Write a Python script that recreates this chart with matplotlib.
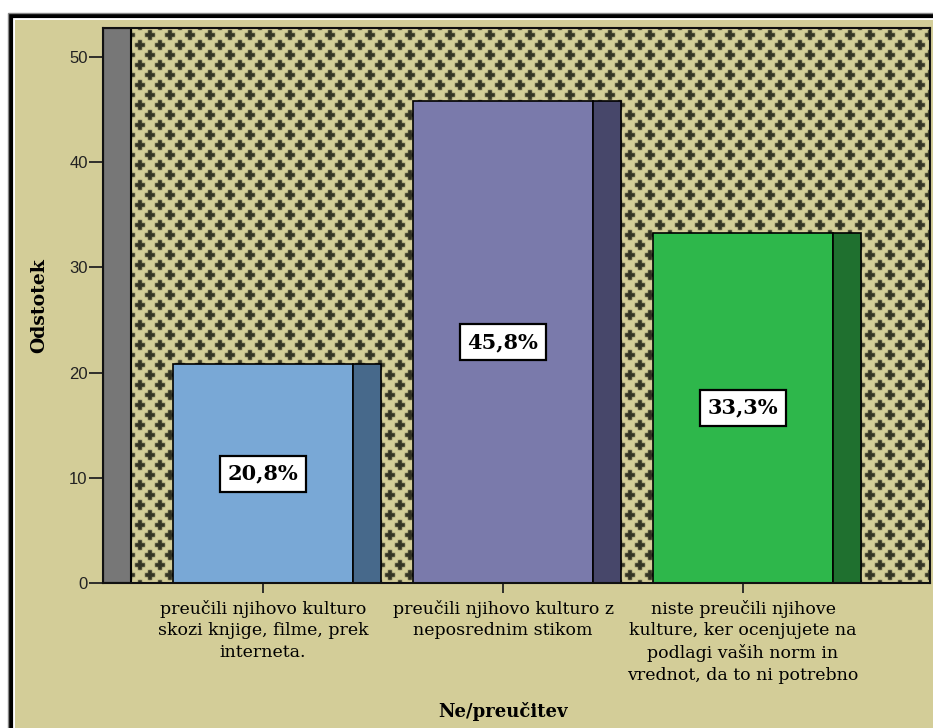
import numpy as np
import matplotlib
matplotlib.use("Agg")
import matplotlib.pyplot as plt
from matplotlib.patches import Rectangle

# Ne/preučitev - odstotki odgovorov
categories = [
    "preučili njihovo kulturo\nskozi knjige, filme, prek\ninterneta.",
    "preučili njihovo kulturo z\nneposrednim stikom",
    "niste preučili njihove\nkulture, ker ocenjujete na\npodlagi vaših norm in\nvrednot, da to ni potrebno",
]
percent = [20.8, 45.8, 33.3]
value_labels = ["20,8%", "45,8%", "33,3%"]
front_colors = ["#79a8d6", "#7a7aab", "#2eb74b"]
side_colors = ["#47698b", "#47476a", "#1f702f"]
yticks = [0, 10, 20, 30, 40, 50]

khaki = "#d3cd98"
W, H = 933, 728
fig = plt.figure(figsize=(W / 100, H / 100), dpi=100, facecolor="white")

# frame around the chart
fig.add_artist(Rectangle((15 / W, 0), (W - 15) / W, (H - 20) / H,
                         transform=fig.transFigure, facecolor=khaki,
                         edgecolor="none", zorder=0))
fig.add_artist(Rectangle((11 / W, -0.01), 1.1, (H - 16) / H + 0.01,
                         transform=fig.transFigure, facecolor="none",
                         edgecolor="black", linewidth=3.0, zorder=1))
fig.add_artist(Rectangle((8 / W, -0.01), 1.1, (H - 13) / H + 0.01,
                         transform=fig.transFigure, facecolor="none",
                         edgecolor="#888888", linewidth=1.0, zorder=1))

ax_l, ax_b, ax_w, ax_h = 103, 145, 827, 555
ax = fig.add_axes([ax_l / W, ax_b / H, ax_w / W, ax_h / H])
ax.set_facecolor(khaki)

x = np.arange(len(categories))
bar_w = 0.75
depth = 0.1167
xmin, xmax = -0.667, 2.779
ymax = 52.76
ax.set_xlim(xmin, xmax)
ax.set_ylim(0, ymax)

# cross pattern fill of the plot area (20 px tile, two staggered crosses)
tile = np.zeros((20, 20))
for cy, cx in [(7, 7), (17, 17)]:
    for dy in range(-2, 2):
        for dx in range(-5, 5):
            tile[(cy + dy) % 20, (cx + dx) % 20] = 1
            tile[(cy + dx) % 20, (cx + dy) % 20] = 1
soft = sum(np.roll(np.roll(tile, dy, 0), dx, 1)
           for dy in (-1, 0, 1) for dx in (-1, 0, 1)) / 9.0
soft = np.clip(0.5 * tile + 0.5 * soft, 0, 1)
mask = np.tile(soft, (ax_h // 20 + 1, ax_w // 20 + 1))[:ax_h, :ax_w]
bg = np.array([211, 205, 152]) / 255
fg = np.array([52, 52, 36]) / 255
img = bg[None, None, :] * (1 - mask[..., None]) + fg[None, None, :] * mask[..., None]
ax.imshow(img, extent=[xmin, xmax, 0, ymax], aspect="auto",
          interpolation="nearest", zorder=0)

# back wall depth strip
ax.add_patch(Rectangle((xmin, 0), depth, ymax, facecolor="#777777",
                       edgecolor="black", linewidth=1.5, zorder=1))

# bars with side panels
ax.bar(x, percent, width=bar_w, color=front_colors, edgecolor="black",
       linewidth=1.2, zorder=2)
ax.bar(x + bar_w / 2, percent, width=depth, align="edge", color=side_colors,
       edgecolor="black", linewidth=1.2, zorder=2)

for xi, v, lab in zip(x, percent, value_labels):
    ax.text(xi, v / 2, lab, ha="center", va="center", fontsize=15,
            fontweight="bold", family="DejaVu Serif", color="black", zorder=4,
            bbox=dict(boxstyle="square,pad=0.38", facecolor="white",
                      edgecolor="black", linewidth=1.6))

ax.set_yticks(yticks)
ax.set_yticklabels([str(t) for t in yticks], family="Liberation Sans",
                   fontsize=12, color="#222222")
ax.set_xticks(x)
ax.set_xticklabels(categories, family="DejaVu Serif", fontsize=12.5,
                   linespacing=1.36)
ax.tick_params(axis="y", length=10, width=1.3, pad=1, color="#222222")
ax.tick_params(axis="x", length=7, width=1.3, pad=5, color="#222222")

for s in ax.spines.values():
    s.set_linewidth(1.5)
    s.set_color("#111111")
    s.set_zorder(5)

ax.set_ylabel("Odstotek", family="DejaVu Serif", fontsize=13.5,
              fontweight="bold")
ax.yaxis.set_label_coords(-0.0665, 0.5)
ax.set_xlabel("Ne/preučitev", family="DejaVu Serif", fontsize=13,
              fontweight="bold")
ax.xaxis.set_label_coords(0.484, -0.214)

fig.savefig("out.png", dpi=100, facecolor="white")
